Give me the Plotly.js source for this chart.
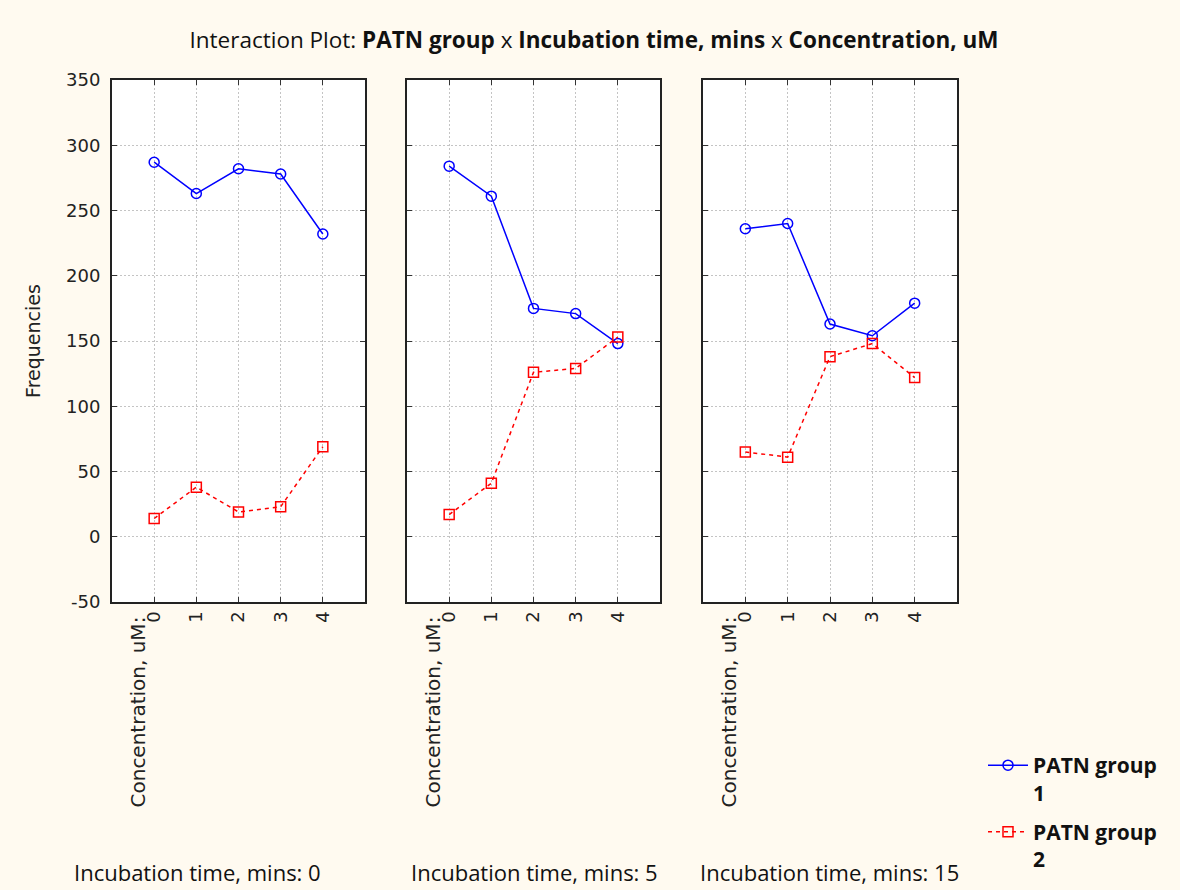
<!DOCTYPE html>
<html>
<head>
<meta charset="utf-8">
<script src="https://cdn.plot.ly/plotly-3.0.1.min.js"></script>
<style>html,body{margin:0;padding:0;background:#FFFAF0;}</style>
</head>
<body>
<div id="chart" style="width:1180px;height:890px;"></div>
<script>
// Data
const concentrations = [0, 1, 2, 3, 4];
const incubationTimes = ['0', '5', '15'];
const group1_t0 = [287, 263, 282, 278, 232];
const group1_t5 = [284, 261, 175, 171, 148];
const group1_t15 = [236, 240, 163, 154, 179];
const group2_t0 = [14, 38, 19, 23, 69];
const group2_t5 = [17, 41, 126, 129, 153];
const group2_t15 = [65, 61, 138, 148, 122];
const yTicks = [-50, 0, 50, 100, 150, 200, 250, 300, 350];
const seriesNames = ['PATN group<br>1', 'PATN group<br>2'];

const W = 1180, H = 890;
const px = v => v / W;
const py = v => 1 - v / H;

const g1 = [group1_t0, group1_t5, group1_t15];
const g2 = [group2_t0, group2_t5, group2_t15];
const suffix = ['', '2', '3'];
const traces = [];
for (let i = 0; i < 3; i++) {
  traces.push({
    x: concentrations, y: g1[i], xaxis: 'x' + suffix[i], yaxis: 'y' + suffix[i],
    type: 'scatter', mode: 'lines+markers', name: seriesNames[0], legendgroup: 'g1',
    showlegend: i === 0,
    line: {color: '#0000FF', width: 1.5},
    marker: {symbol: 'circle-open', size: 10, color: '#0000FF', line: {width: 1.5, color: '#0000FF'}}
  });
  traces.push({
    x: concentrations, y: g2[i], xaxis: 'x' + suffix[i], yaxis: 'y' + suffix[i],
    type: 'scatter', mode: 'lines+markers', name: seriesNames[1], legendgroup: 'g2',
    showlegend: i === 0,
    line: {color: '#FF0000', width: 1.5, dash: '4px,4px'},
    marker: {symbol: 'square-open', size: 10, color: '#FF0000', line: {width: 1.5, color: '#FF0000'}}
  });
}

const panelX = [[112, 365], [407, 660], [703, 957]];
const yDom = [py(602), py(80)];
const tickFont = {family: 'DejaVu Sans, Verdana, sans-serif', size: 18, color: '#222'};
const narrowFont = 'Open Sans, Noto Sans, sans-serif';

const layout = {
  width: W, height: H,
  margin: {l: 0, r: 0, t: 0, b: 0},
  paper_bgcolor: '#FFFAF0',
  plot_bgcolor: '#FFFFFF',
  showlegend: true,
  title: {
    text: 'Interaction Plot: <b>PATN group</b> x <b>Incubation time, mins</b> x <b>Concentration, uM</b>',
    font: {family: narrowFont, size: 22.5, color: '#111'},
    x: px(594), xanchor: 'center', y: py(40), yanchor: 'middle', xref: 'paper', yref: 'paper'
  },
  legend: {
    x: px(983), y: py(745), xanchor: 'left', yanchor: 'top',
    bgcolor: 'rgba(0,0,0,0)', valign: 'top', itemwidth: 40, tracegroupgap: 9,
    font: {family: 'Open Sans, Lato, sans-serif', size: 21, color: '#111', weight: 'bold'}
  },
  annotations: [],
  hovermode: false
};

for (let i = 0; i < 3; i++) {
  const xa = {
    domain: [px(panelX[i][0]), px(panelX[i][1])],
    range: [-1, 5],
    tickvals: concentrations, ticktext: concentrations.map(String),
    tickangle: -90, tickfont: tickFont,
    ticks: 'inside', ticklen: 5, tickcolor: '#333', mirror: 'ticks',
    showline: true, linecolor: '#222', linewidth: 2,
    showgrid: true, gridcolor: '#C4C4C4', griddash: '2px,2px', gridwidth: 1,
    zeroline: false, anchor: 'y' + suffix[i], fixedrange: true
  };
  const ya = {
    domain: yDom, range: [-50, 350],
    tickvals: yTicks, ticktext: yTicks.map(String),
    ticks: 'inside', ticklen: 5, tickcolor: '#333', mirror: 'ticks',
    showticklabels: i === 0, tickfont: tickFont, ticklabelstandoff: 6,
    showline: true, linecolor: '#222', linewidth: 2,
    showgrid: true, gridcolor: '#C4C4C4', griddash: '2px,2px', gridwidth: 1,
    zeroline: false, anchor: 'x' + suffix[i], fixedrange: true
  };
  if (i === 0) {
    ya.title = {text: 'Frequencies', font: {family: 'DejaVu Sans, Verdana, sans-serif', size: 19, color: '#222'}, standoff: 20};
  }
  layout['xaxis' + suffix[i]] = xa;
  layout['yaxis' + suffix[i]] = ya;

  layout.annotations.push({
    text: 'Concentration, uM:', textangle: -90, showarrow: false,
    xref: 'paper', yref: 'paper', x: px(panelX[i][0] + 25), y: py(615),
    xanchor: 'center', yanchor: 'top',
    font: {family: 'DejaVu Sans, Verdana, sans-serif', size: 20, color: '#222'}
  });
  layout.annotations.push({
    text: 'Incubation time, mins: ' + incubationTimes[i], showarrow: false,
    xref: 'paper', yref: 'paper',
    x: px([197, 534, 829][i]), y: py(872), xanchor: 'center', yanchor: 'middle',
    font: {family: narrowFont, size: 22, color: '#111'}
  });
}

Plotly.newPlot('chart', traces, layout, {displayModeBar: false, staticPlot: true});
</script>
</body>
</html>
